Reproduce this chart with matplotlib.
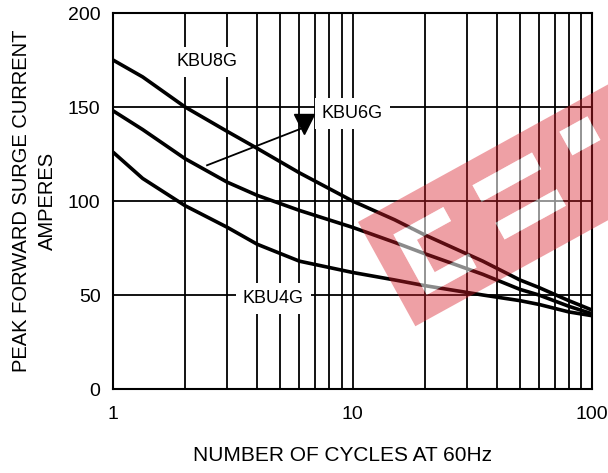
import numpy as np
import matplotlib
matplotlib.use('Agg')
from matplotlib import pyplot as plt
from matplotlib.patches import PathPatch
from matplotlib.path import Path

plt.rcParams['font.family'] = ['Liberation Sans', 'DejaVu Sans']

# number of cycles (log axis)
cycles = [1, 1.33, 2, 3, 4, 6, 10, 15, 20, 35, 50, 60, 80, 100]
kbu8g = [175, 166, 150, 137, 128, 115, 100, 90, 82, 68, 58, 54, 47, 42]
kbu6g = [148, 138, 122.5, 110, 103, 95, 86, 78, 72, 61, 53, 50, 44, 40]
kbu4g = [126, 112, 97.5, 86, 77, 68, 62, 58, 55, 50, 47, 45, 41, 39]

yticks = [0, 50, 100, 150, 200]
xticks = [1, 10, 100]

W, H = 608, 473
fig = plt.figure(figsize=(W / 100, H / 100), dpi=100)
ax = fig.add_axes([113 / W, 1 - 389 / H, (592 - 113) / W, (389 - 13) / H])

ax.set_xscale('log')
ax.set_xlim(1, 100)
ax.set_ylim(0, 200)

# grid: every log minor/major line, horizontal at 50s
grid_x = [m * d for d in (1, 10) for m in range(2, 10)] + [10]
for gx in grid_x:
    ax.axvline(gx, color='black', lw=1.3, zorder=1)
for gy in (50, 100, 150):
    ax.axhline(gy, color='black', lw=1.3, zorder=1)

for s in ax.spines.values():
    s.set_linewidth(1.5)

for vals in (kbu8g, kbu6g, kbu4g):
    ax.plot(cycles, vals, color='black', lw=2.6, solid_capstyle='butt',
            solid_joinstyle='round', zorder=3)

ax.set_yticks(yticks)
ax.set_yticklabels([str(v) for v in yticks], fontsize=14)
ax.set_xticks(xticks)
ax.set_xticklabels(['1', '10', '100'], fontsize=14)
ax.xaxis.set_minor_locator(matplotlib.ticker.NullLocator())
ax.tick_params(axis='x', length=0, pad=12)
ax.tick_params(axis='y', length=0, pad=9)

box = dict(facecolor='white', edgecolor='none', pad=5)
ax.text(2.47, 174, 'KBU8G', fontsize=13, ha='center', va='center', bbox=box, zorder=4)
ax.text(10.0, 146.5, 'KBU6G', fontsize=13, ha='center', va='center', bbox=box, zorder=4)
ax.text(4.67, 48, 'KBU4G', fontsize=13, ha='center', va='center', bbox=box, zorder=4)

# arrow towards KBU6G label
ax.plot([2.47, 6.1], [119, 138.5], color='black', lw=1.3, zorder=5)
ax.plot([6.3], [141], marker='v', color='black', markersize=15, zorder=5)

ax.set_xlabel('NUMBER OF CYCLES AT 60Hz', fontsize=15, labelpad=17)
ax.xaxis.label.set_x(0.48)
ax.set_ylabel('PEAK FORWARD SURGE CURRENT\nAMPERES', fontsize=14.5,
              multialignment='center', linespacing=1.45, labelpad=8)


# watermark: rotated red band with white letter holes, laid out in pixels
ORIGIN = np.array([358, 222])
D = np.array([0.876, -0.482])
N = np.array([0.482, 0.876])


def rect(u0, u1, v0, v1, ccw=True):
    corners = [(u0, v0), (u1, v0), (u1, v1), (u0, v1)]
    if not ccw:
        corners = corners[::-1]
    pts = []
    for u, v in corners:
        px, py = ORIGIN + u * D + v * N
        pts.append((px / W, 1 - py / H))
    return pts


holes = [(25, 43, 28, 97), (43, 82, 28, 44), (43, 82, 81, 97),
         (118, 186, 23, 42), (120, 190, 67, 86), (220, 252, 18, 45)]

verts, codes = [], []
for poly in [rect(0, 440, 0, 119)] + [rect(*h, ccw=False) for h in holes]:
    verts += poly + [poly[0]]
    codes += [Path.MOVETO, Path.LINETO, Path.LINETO, Path.LINETO, Path.CLOSEPOLY]
fig.patches.append(PathPatch(Path(verts, codes), transform=fig.transFigure,
                             facecolor='#d81e2a', edgecolor='none', alpha=0.42, zorder=10))
for h in holes:
    verts = rect(*h)
    fig.patches.append(PathPatch(Path(verts + [verts[0]], closed=True),
                                 transform=fig.transFigure, facecolor='white',
                                 edgecolor='none', alpha=0.55, zorder=11))

fig.savefig('out.png', dpi=100)
